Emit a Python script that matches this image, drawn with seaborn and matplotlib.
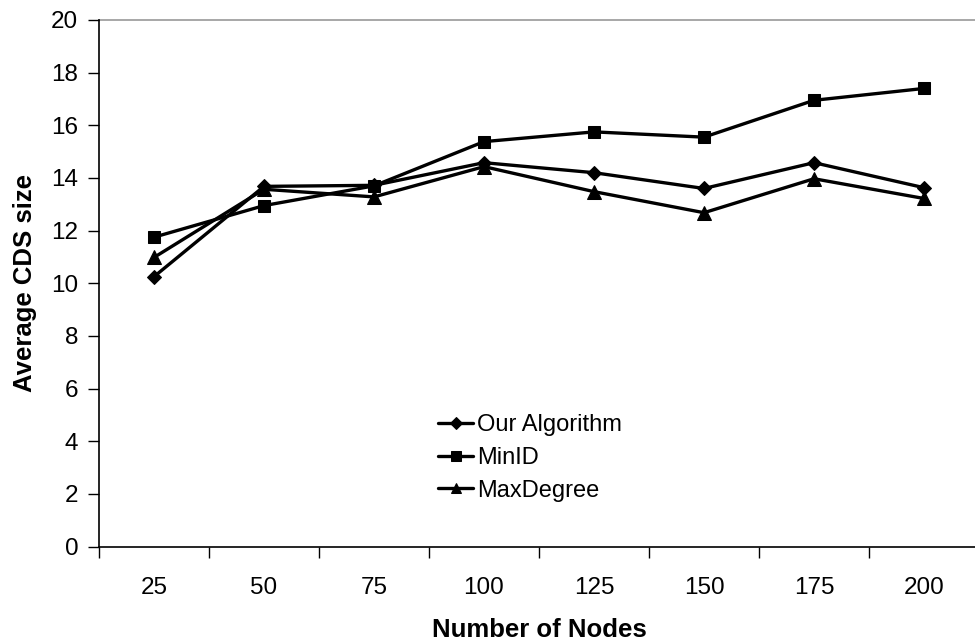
import matplotlib
matplotlib.use("Agg")
import matplotlib.pyplot as plt
import seaborn as sns
import pandas as pd
import numpy as np

nodes = ["25", "50", "75", "100", "125", "150", "175", "200"]
our_algorithm = [10.25, 13.68, 13.72, 14.58, 14.2, 13.6, 14.58, 13.63]
min_id = [11.75, 12.95, 13.7, 15.38, 15.75, 15.55, 16.95, 17.4]
max_degree = [10.98, 13.57, 13.28, 14.43, 13.48, 12.68, 13.97, 13.22]
series_names = ["Our Algorithm", "MinID", "MaxDegree"]
y_ticks = [0, 2, 4, 6, 8, 10, 12, 14, 16, 18, 20]

sns.set_theme(style="white")
plt.rcParams["font.family"] = ["Liberation Sans", "DejaVu Sans"]
plt.rcParams["text.color"] = "black"
plt.rcParams["axes.labelcolor"] = "black"
plt.rcParams["xtick.color"] = "black"
plt.rcParams["ytick.color"] = "black"

df = pd.DataFrame({
    "Number of Nodes": nodes * 3,
    "Average CDS size": our_algorithm + min_id + max_degree,
    "series": [series_names[0]] * 8 + [series_names[1]] * 8 + [series_names[2]] * 8,
})

fig = plt.figure(figsize=(9.75, 6.42), dpi=100)
ax = fig.add_axes([99 / 975, 1 - 546.5 / 642, 880 / 975, (546.5 - 20) / 642])

sns.lineplot(
    data=df, x="Number of Nodes", y="Average CDS size", hue="series", style="series",
    palette=["black"] * 3, markers={"Our Algorithm": "D", "MinID": "s", "MaxDegree": "^"},
    dashes=False, linewidth=2.4, markersize=8.5, markeredgecolor="black",
    sort=False, ax=ax, legend=True,
)
# diamonds a bit smaller than squares, triangles a bit larger
for line in ax.lines:
    if line.get_marker() == "D":
        line.set_markersize(7)
    elif line.get_marker() == "^":
        line.set_markersize(9.5)

ax.set_xlim(-0.5, 7.5)
ax.set_ylim(0, 20)
ax.set_yticks(y_ticks)
ax.set_xticks(range(len(nodes)))
ax.set_xticklabels(nodes)
ax.set_xticks(np.arange(-0.5, 8, 1), minor=True)
ax.tick_params(axis="x", which="major", length=0, pad=22, labelsize=17.5)
ax.tick_params(axis="x", which="minor", length=8, width=1, direction="out", bottom=True)
ax.tick_params(axis="y", length=8, width=1, direction="out", left=True, labelsize=17.5, pad=7)

for side in ["top", "right"]:
    ax.spines[side].set_visible(False)
for side in ["left", "bottom"]:
    ax.spines[side].set_color("black")
    ax.spines[side].set_linewidth(1.2)
ax.axhline(20, color="#a0a0a0", lw=1.3, zorder=0, clip_on=False)

ax.set_xlabel("Number of Nodes", fontsize=18.5, fontweight="bold", labelpad=13.5)
ax.set_ylabel("Average CDS size", fontsize=18.5, fontweight="bold", labelpad=10)

leg = ax.legend(
    title=None, frameon=False, fontsize=17, loc="upper left",
    bbox_to_anchor=(429 / 975, 1 - 405 / 642), bbox_transform=fig.transFigure,
    handlelength=1.45, handletextpad=0.2, labelspacing=0.45, borderaxespad=0,
)
for h in leg.legend_handles:
    m = h.get_marker()
    h.set_markersize(6 if m == "D" else 7)

fig.savefig("out.png", dpi=100)
